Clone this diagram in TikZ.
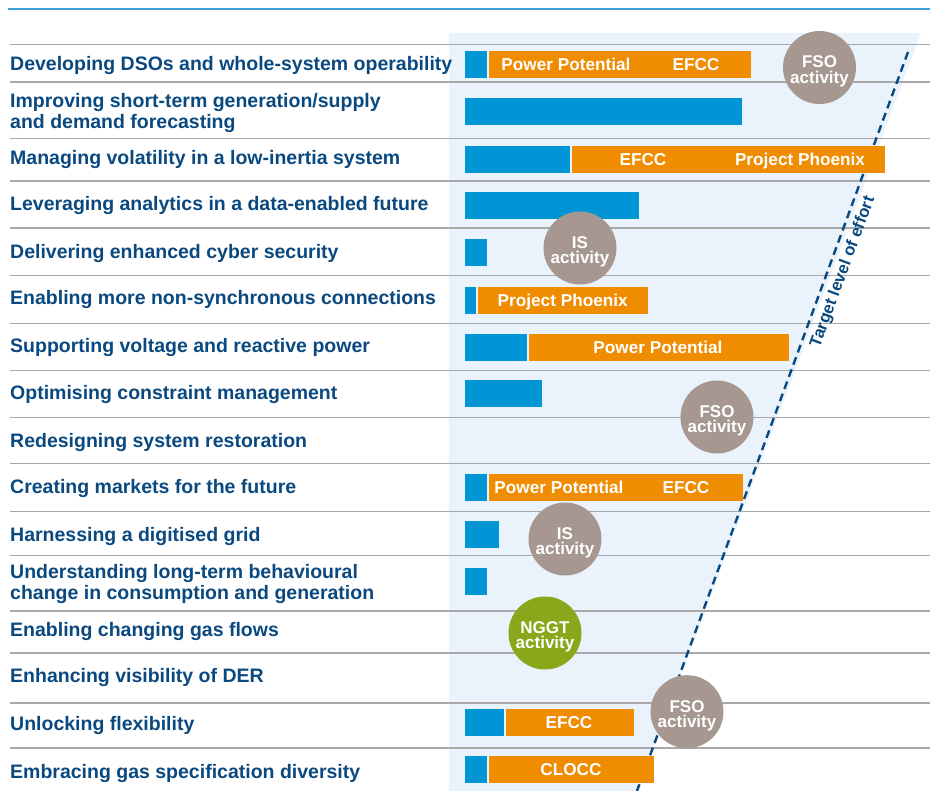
\documentclass[tikz,border=0pt]{standalone}
\usepackage{fontspec}
\setmainfont{Liberation Sans}
\usepackage{xcolor}
\usetikzlibrary{positioning}

\definecolor{labelblue}{RGB}{10,73,128}
\definecolor{barblue}{RGB}{0,150,214}
\definecolor{barorange}{RGB}{240,140,0}
\definecolor{fsogray}{RGB}{166,152,144}
\definecolor{nggtgreen}{RGB}{138,166,27}
\definecolor{shadeblue}{RGB}{234,243,251}
\definecolor{rowgray}{RGB}{168,168,168}
\definecolor{topblue}{RGB}{60,160,218}

\begin{document}
\begin{tikzpicture}[x=1pt, y=-1pt,
    rowlabel/.style={text=labelblue, font=\fontsize{19.5}{21}\selectfont\bfseries, anchor=base west, inner sep=0pt, align=left},
    bluebar/.style={fill=barblue, inner sep=0pt, outer sep=0pt, minimum height=27pt, anchor=west},
    orangebar/.style={fill=barorange, inner sep=0pt, outer sep=0pt, minimum height=27pt},
    bartext/.style={text=white, font=\fontsize{17.2}{20}\selectfont\bfseries, anchor=base, inner sep=0pt},
    activity/.style={circle, minimum size=73pt, inner sep=0pt},
    fso/.style={activity, fill=fsogray},
    nggt/.style={activity, fill=nggtgreen},
    activitytext/.style={text=white, font=\fontsize{17}{15.5}\selectfont\bfseries, align=center, inner sep=0pt}]
    \useasboundingbox (0,0) rectangle (930,791);

    % shaded band and rules
    \fill[shadeblue] (449,33) -- (921,33) -- (638,791) -- (449,791) -- cycle;
    \draw[topblue, line width=2pt] (8,9) -- (930,9);
    \foreach \y in {44.5,82,138.5,181,228,275.7,323.5,370.5,417.7,463.3,511.5,555.7,611,653,703,748}
        \draw[rowgray, line width=1.2pt] (10,\y) -- (930,\y);

    % target level of effort
    \coordinate (tgttop) at (908,52);
    \coordinate (tgtbot) at (637,791);
    \draw[labelblue, line width=2.4pt, dash pattern=on 8pt off 5pt] (tgttop) -- (tgtbot);
    \node[rotate=69.8, text=labelblue, font=\fontsize{16.7}{20}\selectfont\bfseries] (tgtlabel) at (843,272) {Target level of effort};

    % row labels
    \node[rowlabel] (l1) at (10,71) {Developing DSOs and whole-system operability};
    \node[rowlabel] (l2) at (10,128.5) {Improving short-term generation/supply\\and demand forecasting};
    \node[rowlabel] (l3) at (10,164.3) {Managing volatility in a low-inertia system};
    \node[rowlabel] (l4) at (10,211) {Leveraging analytics in a data-enabled future};
    \node[rowlabel] (l5) at (10,258.3) {Delivering enhanced cyber security};
    \node[rowlabel] (l6) at (10,305) {Enabling more non-synchronous connections};
    \node[rowlabel] (l7) at (10,352.7) {Supporting voltage and reactive power};
    \node[rowlabel] (l8) at (10,400) {Optimising constraint management};
    \node[rowlabel] (l9) at (10,447.3) {Redesigning system restoration};
    \node[rowlabel] (l10) at (10,494) {Creating markets for the future};
    \node[rowlabel] (l11) at (10,541.7) {Harnessing a digitised grid};
    \node[rowlabel] (l12) at (10,599.3) {Understanding long-term behavioural\\change in consumption and generation};
    \node[rowlabel] (l13) at (10,636) {Enabling changing gas flows};
    \node[rowlabel] (l14) at (10,682.7) {Enhancing visibility of DER};
    \node[rowlabel] (l15) at (10,730) {Unlocking flexibility};
    \node[rowlabel] (l16) at (10,778.3) {Embracing gas specification diversity};

    % bars
    \node[bluebar, minimum width=22pt] (b1) at (465,64.3) {};
    \node[orangebar, minimum width=262.5pt, right=1.5pt of b1] (o1) {};
    \node[bluebar, minimum width=277pt] (b2) at (465,111.5) {};
    \node[bluebar, minimum width=105pt] (b3) at (465,159.3) {};
    \node[orangebar, minimum width=313.5pt, right=1.5pt of b3] (o3) {};
    \node[bluebar, minimum width=174pt] (b4) at (465,205.5) {};
    \node[bluebar, minimum width=22pt] (b5) at (465,252.3) {};
    \node[bluebar, minimum width=11pt] (b6) at (465,300.5) {};
    \node[orangebar, minimum width=170.5pt, right=1.5pt of b6] (o6) {};
    \node[bluebar, minimum width=62pt] (b7) at (465,347.3) {};
    \node[orangebar, minimum width=260.5pt, right=1.5pt of b7] (o7) {};
    \node[bluebar, minimum width=77pt] (b8) at (465,393.3) {};
    \node[bluebar, minimum width=22pt] (b10) at (465,487.3) {};
    \node[orangebar, minimum width=254pt, right=1.5pt of b10] (o10) {};
    \node[bluebar, minimum width=34pt] (b11) at (465,534.3) {};
    \node[bluebar, minimum width=22pt] (b12) at (465,581.5) {};
    \node[bluebar, minimum width=39pt] (b15) at (465,722.3) {};
    \node[orangebar, minimum width=128.5pt, right=1.5pt of b15] (o15) {};
    \node[bluebar, minimum width=22pt] (b16) at (465,769.2) {};
    \node[orangebar, minimum width=165.5pt, right=1.5pt of b16] (o16) {};

    % bar texts
    \node[bartext] (t1a) at (566,70.5) {Power Potential};
    \node[bartext] (t1b) at (696,70.5) {EFCC};
    \node[bartext] (t3a) at (643,165.5) {EFCC};
    \node[bartext] (t3b) at (800,165.5) {Project Phoenix};
    \node[bartext] (t6) at (562.7,306.7) {Project Phoenix};
    \node[bartext] (t7) at (658,353.5) {Power Potential};
    \node[bartext] (t10a) at (559,493.5) {Power Potential};
    \node[bartext] (t10b) at (686,493.5) {EFCC};
    \node[bartext] (t15) at (569,728.5) {EFCC};
    \node[bartext] (t16) at (571,775.4) {CLOCC};

    % activity circles
    \node[fso] (fso1) at (819.5,67.5) {};
    \node[fso] (is1) at (580,248) {};
    \node[fso] (fso2) at (717,417) {};
    \node[fso] (is2) at (565,539) {};
    \node[nggt] (nggt1) at (545,633) {};
    \node[fso] (fso3) at (687,711.7) {};
    \node[activitytext] (fso1t) at (819.5,71.5) {FSO\\activity};
    \node[activitytext] (is1t) at (580,252) {IS\\activity};
    \node[activitytext] (fso2t) at (717,421) {FSO\\activity};
    \node[activitytext] (is2t) at (565,543) {IS\\activity};
    \node[activitytext] (nggt1t) at (545,637) {NGGT\\activity};
    \node[activitytext] (fso3t) at (687,715.7) {FSO\\activity};
\end{tikzpicture}
\end{document}
